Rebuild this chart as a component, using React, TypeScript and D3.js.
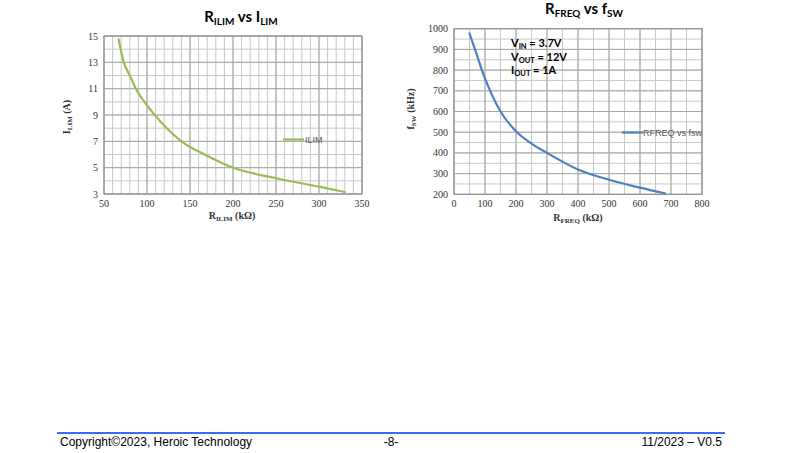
import React from "react";
import * as d3 from "d3";

const rilim = [67, 73, 80, 87, 97, 109, 123, 140, 167, 198, 250, 300, 330];
const ilim = [14.75, 13, 12, 11, 10, 9, 8, 7, 6, 5.05, 4.2, 3.56, 3.15];
const ilimXTicks = [50, 100, 150, 200, 250, 300, 350];
const ilimYTicks = [3, 5, 7, 9, 11, 13, 15];

const rfreq = [50, 70, 90, 100, 150, 200, 250, 300, 400, 500, 600, 680];
const fsw = [977, 890, 800, 760, 600, 505, 445, 400, 320, 270, 232, 205];
const freqXTicks = [0, 100, 200, 300, 400, 500, 600, 700, 800];
const freqYTicks = [200, 300, 400, 500, 600, 700, 800, 900, 1000];

const SERIF = "'Liberation Serif', 'Times New Roman', serif";
const SANS = "Lato, 'Open Sans', sans-serif";
const ARIAL = "'Liberation Sans', Arial, sans-serif";

type ChartProps = {
  xs: number[];
  ys: number[];
  xDomain: [number, number];
  yDomain: [number, number];
  xRange: [number, number];
  yRange: [number, number];
  xTicks: number[];
  yTicks: number[];
  xMinorStep: number;
  yMinorStep: number;
  color: string;
};

function Chart(p: ChartProps) {
  const x = d3.scaleLinear().domain(p.xDomain).range(p.xRange);
  const y = d3.scaleLinear().domain(p.yDomain).range(p.yRange);
  const xMinor = d3.range(p.xDomain[0], p.xDomain[1] + 1e-9, p.xMinorStep);
  const yMinor = d3.range(p.yDomain[0], p.yDomain[1] + 1e-9, p.yMinorStep);
  const line = d3
    .line<number>()
    .x((_, i) => x(p.xs[i]))
    .y((d) => y(d))
    .curve(d3.curveMonotoneX);
  return (
    <g>
      {xMinor.map((v) => (
        <line key={"xm" + v} x1={x(v)} x2={x(v)} y1={p.yRange[0]} y2={p.yRange[1]} stroke="#c8c8c8" strokeWidth={1} />
      ))}
      {yMinor.map((v) => (
        <line key={"ym" + v} x1={p.xRange[0]} x2={p.xRange[1]} y1={y(v)} y2={y(v)} stroke="#c8c8c8" strokeWidth={1} />
      ))}
      {p.xTicks.map((v) => (
        <line key={"xM" + v} x1={x(v)} x2={x(v)} y1={p.yRange[0]} y2={p.yRange[1]} stroke="#a8a8a8" strokeWidth={1} />
      ))}
      {p.yTicks.map((v) => (
        <line key={"yM" + v} x1={p.xRange[0]} x2={p.xRange[1]} y1={y(v)} y2={y(v)} stroke="#a8a8a8" strokeWidth={1} />
      ))}
      <rect
        x={p.xRange[0]}
        y={p.yRange[1]}
        width={p.xRange[1] - p.xRange[0]}
        height={p.yRange[0] - p.yRange[1]}
        fill="none"
        stroke="#8c8c8c"
        strokeWidth={1}
      />
      {p.xTicks.map((v) => (
        <text key={"xt" + v} x={x(v)} y={p.yRange[0] + 13} textAnchor="middle" fontFamily={SERIF} fontSize={10} fill="#333">
          {v}
        </text>
      ))}
      {p.yTicks.map((v) => (
        <text key={"yt" + v} x={p.xRange[0] - 6} y={y(v) + 3.5} textAnchor="end" fontFamily={SERIF} fontSize={10} fill="#333">
          {v}
        </text>
      ))}
      <path d={line(p.ys) || ""} fill="none" stroke={p.color} strokeWidth={2.2} strokeLinejoin="round" strokeLinecap="round" />
    </g>
  );
}

export default function App() {
  return (
    <svg width={786} height={453} style={{ position: "absolute", left: 0, top: 0, background: "#fff" }}>
      {/* Chart 1 */}
      <text x={241} y={22} textAnchor="middle" fontFamily={SANS} fontWeight="bold" fontSize={15} fill="#000">
        R<tspan fontSize={10} dy={3}>ILIM</tspan>
        <tspan dy={-3}> vs I</tspan>
        <tspan fontSize={10} dy={3}>LIM</tspan>
      </text>
      <Chart
        xs={rilim}
        ys={ilim}
        xDomain={[50, 350]}
        yDomain={[3, 15]}
        xRange={[104, 362]}
        yRange={[194, 36]}
        xTicks={ilimXTicks}
        yTicks={ilimYTicks}
        xMinorStep={10}
        yMinorStep={1}
        color="#9bbb59"
      />
      <text x={232} y={219} textAnchor="middle" fontFamily={SERIF} fontWeight="bold" fontSize={10} fill="#333">
        R<tspan fontSize={7} dy={1.5}>ILIM</tspan>
        <tspan dy={-1.5}> (kΩ)</tspan>
      </text>
      <text transform="translate(70,117) rotate(-90)" textAnchor="middle" fontFamily={SERIF} fontWeight="bold" fontSize={10} fill="#333">
        I<tspan fontSize={7} dy={1.5}>LIM</tspan>
        <tspan dy={-1.5}> (A)</tspan>
      </text>
      <line x1={283} x2={304} y1={139.5} y2={139.5} stroke="#9bbb59" strokeWidth={2.2} />
      <text x={305} y={142.5} fontFamily={ARIAL} fontSize={9} fill="#595959">ILIM</text>

      {/* Chart 2 */}
      <text x={584} y={14} textAnchor="middle" fontFamily={SANS} fontWeight="bold" fontSize={15} fill="#000">
        R<tspan fontSize={10} dy={3}>FREQ</tspan>
        <tspan dy={-3}> vs f</tspan>
        <tspan fontSize={10} dy={3}>SW</tspan>
      </text>
      <Chart
        xs={rfreq}
        ys={fsw}
        xDomain={[0, 800]}
        yDomain={[200, 1000]}
        xRange={[454, 702]}
        yRange={[194.3, 28.7]}
        xTicks={freqXTicks}
        yTicks={freqYTicks}
        xMinorStep={50}
        yMinorStep={50}
        color="#4f81bd"
      />
      <text x={578} y={221} textAnchor="middle" fontFamily={SERIF} fontWeight="bold" fontSize={10} fill="#333">
        R<tspan fontSize={7} dy={1.5}>FREQ</tspan>
        <tspan dy={-1.5}> (kΩ)</tspan>
      </text>
      <text transform="translate(414,109) rotate(-90)" textAnchor="middle" fontFamily={SERIF} fontWeight="bold" fontSize={10} fill="#333">
        f<tspan fontSize={7} dy={1.5}>SW</tspan>
        <tspan dy={-1.5}> (kHz)</tspan>
      </text>
      <line x1={622} x2={643} y1={132.5} y2={132.5} stroke="#4f81bd" strokeWidth={2.2} />
      <text x={643} y={135.5} fontFamily={ARIAL} fontSize={9} fill="#595959">RFREQ vs fsw</text>
      <g fontFamily={SANS} fontWeight="bold" fontSize={11} fill="#000">
        <text x={511} y={47}>
          V<tspan fontSize={7.5} dy={2}>IN</tspan>
          <tspan dy={-2}> = 3.7V</tspan>
        </text>
        <text x={511} y={60.5}>
          V<tspan fontSize={7.5} dy={2}>OUT</tspan>
          <tspan dy={-2}> = 12V</tspan>
        </text>
        <text x={511} y={74}>
          I<tspan fontSize={7.5} dy={2}>OUT</tspan>
          <tspan dy={-2}> = 1A</tspan>
        </text>
      </g>

      {/* Footer */}
      <line x1={57} x2={725} y1={433} y2={433} stroke="#3b6cf0" strokeWidth={2} />
      <text x={60} y={446} fontFamily={ARIAL} fontSize={12} fill="#000">Copyright©2023, Heroic Technology</text>
      <text x={391} y={446} textAnchor="middle" fontFamily={ARIAL} fontSize={12} fill="#000">-8-</text>
      <text x={722} y={446} textAnchor="end" fontFamily={ARIAL} fontSize={12} fill="#000">11/2023 – V0.5</text>
    </svg>
  );
}
